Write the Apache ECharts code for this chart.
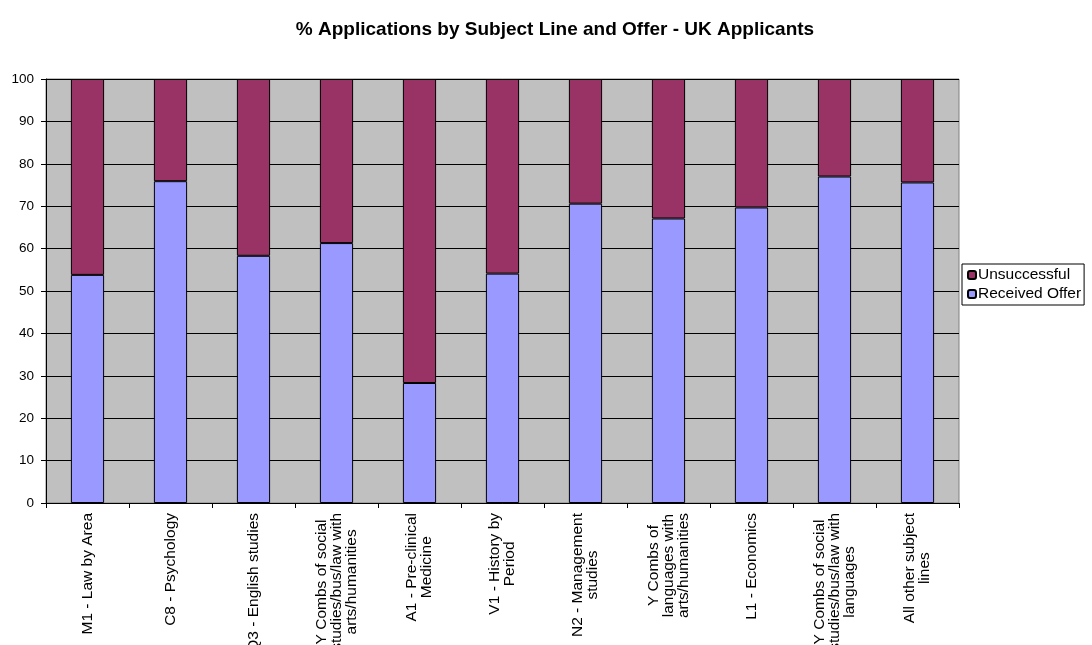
<!DOCTYPE html>
<html>
<head>
<meta charset="utf-8">
<script src="https://cdn.jsdelivr.net/npm/echarts@6/dist/echarts.min.js"></script>
<style>
  html, body { margin: 0; padding: 0; background: #fff; }
  #chart { width: 1092px; height: 645px; }
</style>
</head>
<body>
<div id="chart"></div>
<script>
// subject lines (line breaks as on the original axis)
const subjects = [
  "M1 - Law by Area",
  "C8 - Psychology",
  "Q3 - English studies",
  "Y Combs of social\nstudies/bus/law with\narts/humanities",
  "A1 - Pre-clinical\nMedicine",
  "V1 - History by\nPeriod",
  "N2 - Management\nstudies",
  "Y Combs of\nlanguages with\narts/humanities",
  "L1 - Economics",
  "Y Combs of social\nstudies/bus/law with\nlanguages",
  "All other subject\nlines"
];
const receivedOffer = [53.8, 75.9, 58.3, 61.3, 28.3, 54.1, 70.6, 67.1, 69.7, 77.0, 75.6];
const unsuccessful = [46.2, 24.1, 41.7, 38.7, 71.7, 45.9, 29.4, 32.9, 30.3, 23.0, 24.4];
const yTicks = [0, 10, 20, 30, 40, 50, 60, 70, 80, 90, 100];

const font = "Liberation Sans, Arial, sans-serif";

const chart = echarts.init(document.getElementById("chart"));
chart.setOption({
  animation: false,
  textStyle: { fontFamily: font },
  title: {
    text: "% Applications by Subject Line and Offer - UK Applicants",
    left: 550,
    textAlign: "center",
    top: 15,
    textStyle: { fontSize: 19, fontWeight: "bold", color: "#000", fontFamily: font }
  },
  legend: {
    data: ["Unsuccessful", "Received Offer"],
    orient: "vertical",
    left: 962,
    top: 264,
    itemWidth: 8,
    itemHeight: 8,
    itemGap: 3,
    padding: [3, 3, 3, 5],
    borderColor: "#000",
    borderWidth: 1,
    backgroundColor: "#fff",
    textStyle: { fontSize: 15.5, lineHeight: 14, color: "#000", padding: [0, 0, 0, -3] }
  },
  grid: {
    left: 46,
    right: 133,
    top: 79,
    bottom: 142,
    outerBoundsMode: "none",
    containLabel: false,
    show: true,
    backgroundColor: "#C0C0C0",
    borderColor: "#808080",
    borderWidth: 1
  },
  xAxis: {
    type: "category",
    data: subjects,
    axisLine: { lineStyle: { color: "#000", width: 1 } },
    axisTick: { show: true, length: 5, lineStyle: { color: "#000" } },
    axisLabel: {
      rotate: 90,
      interval: 0,
      margin: 10,
      fontSize: 15.5,
      color: "#000",
      lineHeight: 15,
      formatter: function (v) {
        return v.split("\n").map(function (s) { return "{c|" + s + "}"; }).join("\n");
      },
      rich: { c: { align: "center", fontSize: 15.5, color: "#000", lineHeight: 15 } }
    }
  },
  yAxis: {
    type: "value",
    min: yTicks[0],
    max: yTicks[yTicks.length - 1],
    interval: 10,
    axisLine: { show: true, lineStyle: { color: "#000", width: 1 } },
    axisTick: { show: true, length: 5, lineStyle: { color: "#000" } },
    axisLabel: { fontSize: 13.5, color: "#000", margin: 12 },
    splitLine: { show: true, lineStyle: { color: "#000", width: 1 } }
  },
  series: [
    {
      name: "Received Offer",
      type: "bar",
      stack: "total",
      data: receivedOffer,
      barWidth: "40%",
      itemStyle: { color: "#9999FF", borderColor: "#000", borderWidth: 1 }
    },
    {
      name: "Unsuccessful",
      type: "bar",
      stack: "total",
      data: unsuccessful,
      barWidth: "40%",
      itemStyle: { color: "#993366", borderColor: "#000", borderWidth: 1 }
    }
  ]
});
</script>
</body>
</html>
